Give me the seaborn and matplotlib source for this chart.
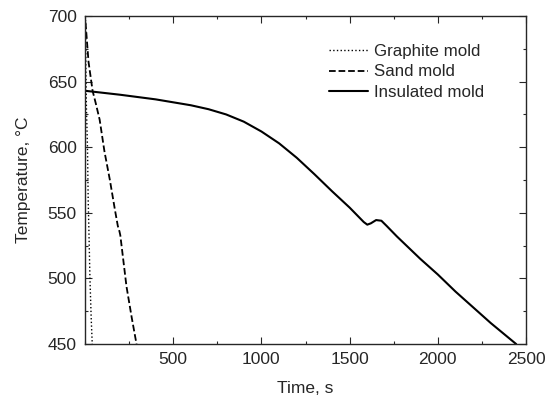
import matplotlib
matplotlib.use("Agg")
import matplotlib.pyplot as plt
from matplotlib.ticker import MultipleLocator
import seaborn as sns

# time (s) and temperature (C)
graphite_t = [3, 5, 8, 14, 18, 22, 28, 35, 41]
graphite_T = [697, 660, 630, 600, 560, 537, 500, 470, 450]

sand_t = [3, 20, 43, 60, 83, 110, 141, 170, 186, 195, 200, 235, 265, 292]
sand_T = [695, 665, 643, 634, 621, 597, 575, 552, 540, 536, 533, 494, 470, 450]

insul_t = [3, 200, 400, 600, 700, 800, 900, 1000, 1100, 1200,
           1300, 1400, 1500, 1580, 1600, 1620, 1650, 1680, 1710, 1768, 1900,
           2000, 2100, 2200, 2300, 2444]
insul_T = [643, 640, 636.5, 632, 629, 625, 619.5, 612, 603, 592,
           579.5, 566.5, 554, 543, 541, 542, 544.5, 544, 540, 532, 515,
           503, 490, 478, 466, 450]

sns.set_style("ticks")
plt.rcParams["font.family"] = ["Liberation Sans", "DejaVu Sans"]

fig = plt.figure(figsize=(5.52, 4.01), dpi=100)
ax = fig.add_axes([0.154, 0.142, 0.799, 0.818])

sns.lineplot(x=graphite_t, y=graphite_T, ax=ax, color="black", lw=1.0,
             linestyle=":", label="Graphite mold")
sns.lineplot(x=sand_t, y=sand_T, ax=ax, color="black", lw=1.3,
             linestyle="--", label="Sand mold")
sns.lineplot(x=insul_t, y=insul_T, ax=ax, color="black", lw=1.5,
             linestyle="-", label="Insulated mold")

ax.set_xlim(0, 2500)
ax.set_ylim(450, 700)
ax.set_xticks([500, 1000, 1500, 2000, 2500])
ax.set_yticks([450, 500, 550, 600, 650, 700])
ax.xaxis.set_minor_locator(MultipleLocator(250))
ax.yaxis.set_minor_locator(MultipleLocator(25))
ax.tick_params(which="both", direction="in", top=True, right=True,
               labelsize=12.5, width=0.8)
ax.tick_params(which="major", length=5, pad=6)
ax.tick_params(which="minor", length=2.5)
for s in ax.spines.values():
    s.set_linewidth(1.0)

ax.set_xlabel("Time, s", fontsize=12.5, labelpad=10)
ax.set_ylabel("Temperature, \u00b0C", fontsize=12.5, labelpad=12)

ax.legend(loc="upper right", frameon=False, fontsize=12.2, handlelength=2.3,
          handletextpad=0.35, labelspacing=0.3, bbox_to_anchor=(0.94, 0.96))

fig.savefig("out.png", dpi=100)
